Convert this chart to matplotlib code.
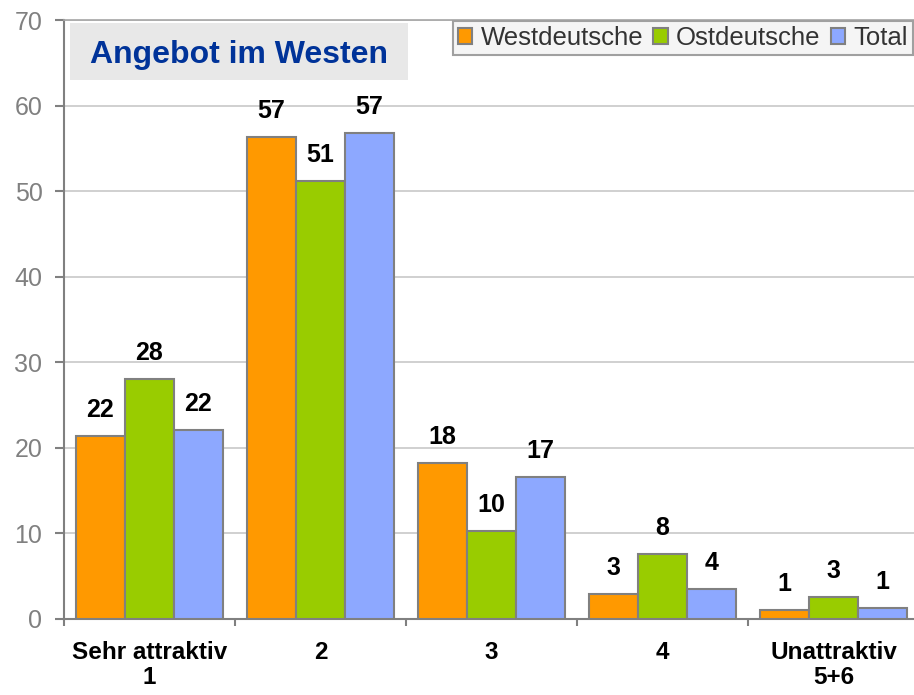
import matplotlib.pyplot as plt
import numpy as np
from matplotlib.patches import Rectangle, Patch

plt.rcParams['font.family'] = ['Liberation Sans', 'DejaVu Sans']

categories = ["Sehr attraktiv\n1", "2", "3", "4", "Unattraktiv\n5+6"]
series_names = ["Westdeutsche", "Ostdeutsche", "Total"]
# bar heights as drawn
west = [21.4, 56.3, 18.2, 2.9, 1.0]
ost = [28.0, 51.2, 10.2, 7.6, 2.5]
total = [22.0, 56.8, 16.5, 3.5, 1.2]
# printed labels (as shown on the chart)
west_lbl = [22, 57, 18, 3, 1]
ost_lbl = [28, 51, 10, 8, 3]
total_lbl = [22, 57, 17, 4, 1]
colors = ["#FF9900", "#99CC00", "#8DA8FF"]
title = "Angebot im Westen"


def main():
    fig = plt.figure(figsize=(9.14, 6.95), dpi=100)
    ax = fig.add_axes([0.070, 0.110, 0.9355, 0.861])

    x = np.arange(len(categories))
    w = 0.2865
    edge = "#808080"

    series = [(west, west_lbl), (ost, ost_lbl), (total, total_lbl)]
    for i, ((vals, lbls), col) in enumerate(zip(series, colors)):
        xs = x + (i - 1) * w
        ax.bar(xs, vals, width=w, color=col, edgecolor=edge, linewidth=1.5, zorder=3)
        for xi, v, lb in zip(xs, vals, lbls):
            ax.annotate(str(lb), (xi, v), xytext=(0, 13.7),
                        textcoords="offset points", ha="center", va="baseline",
                        fontsize=18, fontweight="bold", color="black")

    ax.set_xlim(-0.5, len(categories) - 0.5)
    ax.set_ylim(0, 70)
    ax.set_yticks(np.arange(0, 71, 10))
    ax.yaxis.grid(True, color="#C8C8C8", linewidth=1.2, zorder=0)
    ax.set_axisbelow(True)

    ax.set_xticks(x)
    ax.set_xticklabels(categories, fontsize=17.5, fontweight="bold", linespacing=1.15)
    ax.set_xticks(np.arange(-0.5, len(categories), 1), minor=True)
    ax.tick_params(axis="x", which="major", length=0, pad=16)
    ax.tick_params(axis="x", which="minor", length=5, width=1.5, color=edge)
    ax.tick_params(axis="y", length=6.5, width=1.5, color=edge, labelsize=18,
                   labelcolor="#808080", pad=9)

    for s in ["left", "bottom"]:
        ax.spines[s].set_color(edge)
        ax.spines[s].set_linewidth(1.5)
    ax.spines["top"].set_color("#A6A6A6")
    ax.spines["top"].set_linewidth(1.2)
    ax.spines["right"].set_visible(False)

    # title box
    fig.patches.append(Rectangle((70 / 914, 1 - 80 / 695), 338 / 914, 57 / 695,
                                 transform=fig.transFigure, facecolor="#E8E8E8",
                                 edgecolor="none", zorder=5))
    fig.text(238.5 / 914, 1 - 63 / 695, title, ha="center", va="baseline",
             fontsize=23, fontweight="bold", color="#003399", zorder=6)

    handles = [Patch(facecolor=c, edgecolor=edge, linewidth=1.5) for c in colors]
    leg = fig.legend(handles, series_names, loc="upper right",
                     bbox_to_anchor=(0.999, 0.970), ncol=3, fontsize=18.5,
                     handlelength=0.56, handleheight=0.56, handletextpad=0.32,
                     columnspacing=0.4, borderpad=0.2, borderaxespad=0,
                     fancybox=False, framealpha=1, edgecolor="#A0A0A0",
                     facecolor="#F5F5F5", labelcolor="#333333")
    leg.get_frame().set_linewidth(1.5)

    fig.savefig("out.png", dpi=100)


if __name__ == "__main__":
    main()
